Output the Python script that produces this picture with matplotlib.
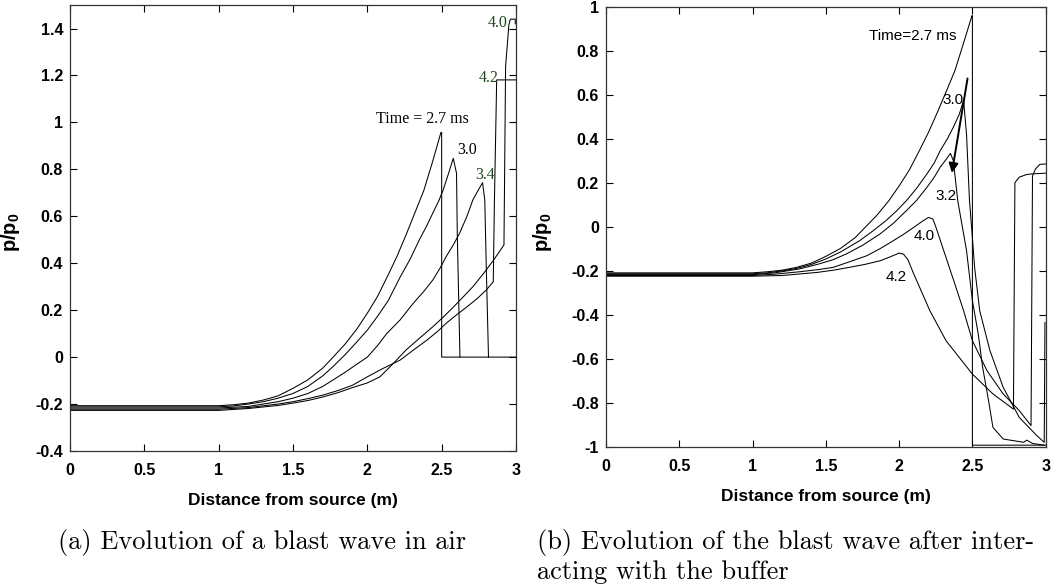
import matplotlib
matplotlib.use("Agg")
import matplotlib.pyplot as plt

plt.rcParams['axes.unicode_minus'] = False
plt.rcParams['mathtext.fontset'] = 'custom'
plt.rcParams['mathtext.bf'] = 'Liberation Sans:bold'
plt.rcParams['mathtext.rm'] = 'Liberation Sans'

# (a) blast wave in air
a27_x = [0, 0.5, 1.0, 1.1, 1.2, 1.3, 1.4, 1.5, 1.6, 1.7, 1.77, 1.85, 1.93, 2.0, 2.07, 2.14, 2.2, 2.26, 2.32,
         2.38, 2.44, 2.495, 2.5, 2.5, 3.0]
a27_y = [-0.207, -0.207, -0.207, -0.203, -0.196, -0.183, -0.165, -0.133, -0.097, -0.047, 0.0, 0.055, 0.12,
         0.187, 0.26, 0.35, 0.43, 0.52, 0.615, 0.71, 0.835, 0.957, 0.957, 0.0, 0.0]
a30_x = [0, 1.0, 1.1, 1.2, 1.3, 1.4, 1.5, 1.6, 1.7, 1.77, 1.85, 1.93, 2.0, 2.07, 2.14, 2.22, 2.29, 2.35, 2.4,
         2.44, 2.48, 2.51, 2.545, 2.578, 2.6, 2.605, 2.623]
a30_y = [-0.212, -0.212, -0.208, -0.2, -0.19, -0.175, -0.155, -0.125, -0.08, -0.04, 0.01, 0.065, 0.115,
         0.175, 0.24, 0.34, 0.42, 0.5, 0.56, 0.613, 0.665, 0.712, 0.78, 0.847, 0.783, 0.527, 0.0]
a34_x = [0, 1.0, 1.2, 1.3, 1.4, 1.5, 1.6, 1.7, 1.77, 1.85, 1.93, 2.0, 2.07, 2.13, 2.22, 2.31, 2.38, 2.44, 2.49,
         2.53, 2.58, 2.62, 2.67, 2.71, 2.745, 2.775, 2.79, 2.80, 2.815]
a34_y = [-0.217, -0.217, -0.21, -0.2, -0.19, -0.175, -0.155, -0.125, -0.097, -0.065, -0.03, 0.0, 0.05,
         0.1, 0.158, 0.23, 0.28, 0.328, 0.38, 0.428, 0.48, 0.527, 0.6, 0.67, 0.71, 0.743, 0.67, 0.385, 0.0]
a40_x = [0, 1.0, 1.2, 1.4, 1.5, 1.6, 1.7, 1.8, 1.9, 2.0, 2.085, 2.17, 2.26, 2.35, 2.44, 2.51, 2.58, 2.65,
         2.71, 2.78, 2.85, 2.919, 2.93, 2.952, 2.962, 2.995, 2.995]
a40_y = [-0.227, -0.227, -0.219, -0.206, -0.196, -0.185, -0.17, -0.152, -0.13, -0.11, -0.084, -0.03, 0.03,
         0.08, 0.129, 0.17, 0.214, 0.26, 0.3, 0.355, 0.414, 0.478, 1.238, 1.416, 1.44, 1.44, 1.42]
a42_x = [0, 1.0, 1.2, 1.4, 1.5, 1.6, 1.7, 1.8, 1.9, 2.0, 2.1, 2.22, 2.31, 2.4, 2.47, 2.53, 2.6, 2.67, 2.74,
         2.8, 2.847, 2.855, 2.87, 3.0]
a42_y = [-0.222, -0.222, -0.215, -0.2, -0.19, -0.177, -0.162, -0.143, -0.12, -0.084, -0.05, -0.013, 0.03,
         0.072, 0.108, 0.144, 0.18, 0.214, 0.25, 0.286, 0.321, 0.67, 1.181, 1.181]

# (b) after interacting with the buffer
b27_x = [0, 0.5, 1.0, 1.1, 1.2, 1.3, 1.4, 1.5, 1.6, 1.7, 1.77, 1.85, 1.93, 2.0, 2.07, 2.14, 2.2, 2.26, 2.32,
         2.38, 2.44, 2.497, 2.5, 2.5, 3.0]
b27_y = [-0.21, -0.21, -0.21, -0.205, -0.198, -0.185, -0.166, -0.135, -0.099, -0.05, -0.002, 0.053, 0.118,
         0.185, 0.258, 0.348, 0.428, 0.518, 0.612, 0.708, 0.835, 0.959, 0.959, -0.993, -0.993]
b30_x = [0, 1.0, 1.1, 1.21, 1.3, 1.4, 1.5, 1.6, 1.73, 1.82, 1.91, 1.98, 2.05, 2.12, 2.19, 2.24, 2.28, 2.33,
         2.37, 2.41, 2.44, 2.46, 2.48, 2.5, 2.515, 2.55, 2.62, 2.71, 2.82, 2.94, 2.99, 2.995]
b30_y = [-0.214, -0.214, -0.21, -0.2, -0.19, -0.172, -0.147, -0.115, -0.064, -0.02, 0.027, 0.07, 0.118,
         0.175, 0.24, 0.29, 0.345, 0.4, 0.452, 0.51, 0.573, 0.42, 0.12, -0.05, -0.185, -0.382, -0.564, -0.73,
         -0.867, -0.95, -0.98, -0.435]
b32_x = [0, 1.0, 1.15, 1.32, 1.45, 1.55, 1.64, 1.75, 1.87, 1.96, 2.05, 2.12, 2.19, 2.24, 2.28, 2.32, 2.35,
         2.37, 2.40, 2.46, 2.50, 2.54, 2.57, 2.61, 2.64, 2.71, 2.85, 2.87, 2.91, 2.99]
b32_y = [-0.218, -0.218, -0.21, -0.192, -0.17, -0.15, -0.124, -0.085, -0.033, 0.015, 0.073, 0.12, 0.179,
         0.225, 0.27, 0.305, 0.333, 0.3, 0.118, -0.109, -0.336, -0.488, -0.64, -0.79, -0.912, -0.965, -0.98,
         -0.97, -0.985, -0.993]
b40_x = [0, 1.0, 1.15, 1.32, 1.45, 1.55, 1.66, 1.78, 1.87, 1.96, 2.03, 2.1, 2.16, 2.2, 2.23, 2.25, 2.32, 2.38,
         2.44, 2.5, 2.6, 2.71, 2.82, 2.90, 2.91, 2.93, 2.96, 3.0]
b40_y = [-0.222, -0.222, -0.216, -0.205, -0.195, -0.185, -0.16, -0.132, -0.1, -0.064, -0.035, -0.003, 0.025,
         0.042, 0.035, 0.0, -0.14, -0.26, -0.382, -0.518, -0.655, -0.76, -0.836, -0.904, 0.23, 0.262, 0.283,
         0.285]
b42_x = [0, 1.0, 1.2, 1.32, 1.44, 1.55, 1.66, 1.77, 1.87, 1.94, 2.0, 2.03, 2.06, 2.1, 2.21, 2.32, 2.5, 2.64,
         2.78, 2.79, 2.82, 2.87, 2.91, 3.0]
b42_y = [-0.225, -0.225, -0.222, -0.215, -0.208, -0.198, -0.185, -0.171, -0.155, -0.137, -0.12, -0.125,
         -0.15, -0.215, -0.382, -0.518, -0.67, -0.76, -0.829, 0.2, 0.225, 0.237, 0.24, 0.243]

x_ticks = [0, 0.5, 1, 1.5, 2, 2.5, 3]
x_labels = ['0', '0.5', '1', '1.5', '2', '2.5', '3']
a_yticks = [-0.4, -0.2, 0, 0.2, 0.4, 0.6, 0.8, 1.0, 1.2, 1.4]
a_ylabels = ['-0.4', '-0.2', '0', '0.2', '0.4', '0.6', '0.8', '1', '1.2', '1.4']
b_yticks = [-1, -0.8, -0.6, -0.4, -0.2, 0, 0.2, 0.4, 0.6, 0.8, 1]
b_ylabels = ['-1', '-0.8', '-0.6', '-0.4', '-0.2', '0', '0.2', '0.4', '0.6', '0.8', '1']

fig = plt.figure(figsize=(10.52, 5.86), dpi=100)
ax1 = fig.add_axes([0.0665, 0.2304, 0.424, 0.761])
ax2 = fig.add_axes([0.576, 0.2377, 0.418, 0.751])

lw = 0.75
for xs, ys in [(a27_x, a27_y), (a30_x, a30_y), (a34_x, a34_y), (a40_x, a40_y), (a42_x, a42_y)]:
    ax1.plot(xs, ys, color='black', lw=lw)
for xs, ys in [(b27_x, b27_y), (b30_x, b30_y), (b32_x, b32_y), (b40_x, b40_y), (b42_x, b42_y)]:
    ax2.plot(xs, ys, color='black', lw=lw)

tickfont = dict(fontfamily='Liberation Sans', fontweight='bold', fontsize=11.5)

def style(ax, yt, yl, ylim):
    ax.set_xlim(0, 3)
    ax.set_ylim(*ylim)
    ax.set_xticks(x_ticks)
    ax.set_xticklabels(x_labels, **tickfont)
    ax.set_yticks(yt)
    ax.set_yticklabels(yl, **tickfont)
    ax.tick_params(direction='in', top=True, right=True, length=5, width=0.8, pad=5)
    ax.tick_params(axis='x', pad=9)
    for s in ax.spines.values():
        s.set_linewidth(0.9)
        s.set_color('#333333')
    ax.set_xlabel('Distance from source (m)', fontfamily='Liberation Sans',
                  fontweight='bold', fontsize=12.5)
    ax.set_ylabel(r'$\mathbf{p/p_0}$', fontsize=14.5)

style(ax1, a_yticks, a_ylabels, (-0.4, 1.5))
style(ax2, b_yticks, b_ylabels, (-1, 1))
ax1.xaxis.set_label_coords(0.5, -0.094)
ax2.xaxis.set_label_coords(0.5, -0.096)
ax1.yaxis.set_label_coords(-0.108, 0.49)
ax2.yaxis.set_label_coords(-0.118, 0.488)

# curve labels
green = '#1e4a1e'
serif = 'Liberation Serif'
ax1.text(2.374, 1.015, 'Time = 2.7 ms', family=serif, fontsize=11.5, ha='center', va='center')
ax1.text(2.67, 0.883, '3.0', family=serif, fontsize=11.5, ha='center', va='center')
ax1.text(2.79, 0.776, '3.4', family=serif, fontsize=11.5, ha='center', va='center', color=green)
ax1.text(2.88, 1.423, '4.0', family=serif, fontsize=11.5, ha='center', va='center', color=green)
ax1.text(2.818, 1.188, '4.2', family=serif, fontsize=11.5, ha='center', va='center', color=green)

sans = 'Liberation Sans'
ax2.text(2.09, 0.868, 'Time=2.7 ms', family=sans, fontsize=11, ha='center', va='center')
ax2.text(2.368, 0.577, '3.0', family=sans, fontsize=11, ha='center', va='center')
ax2.text(2.322, 0.141, '3.2', family=sans, fontsize=11, ha='center', va='center')
ax2.text(2.168, -0.041, '4.0', family=sans, fontsize=11, ha='center', va='center')
ax2.text(1.98, -0.227, '4.2', family=sans, fontsize=11, ha='center', va='center')
ax2.annotate('', xy=(2.357, 0.232), xytext=(2.47, 0.686),
             arrowprops=dict(arrowstyle='-|>', color='black', lw=1.4, mutation_scale=14))

# captions
cap = dict(family='cmr10', fontsize=19, va='center')
fig.text(0.249, 1 - 543 / 586, '(a) Evolution of a blast wave in air', ha='center', **cap)
fig.text(537 / 1052, 1 - 543 / 586, '(b) Evolution of the blast wave after inter-', ha='left', **cap)
fig.text(537 / 1052, 1 - 572 / 586, 'acting with the buffer', ha='left', **cap)

fig.savefig('out.png', dpi=100)
